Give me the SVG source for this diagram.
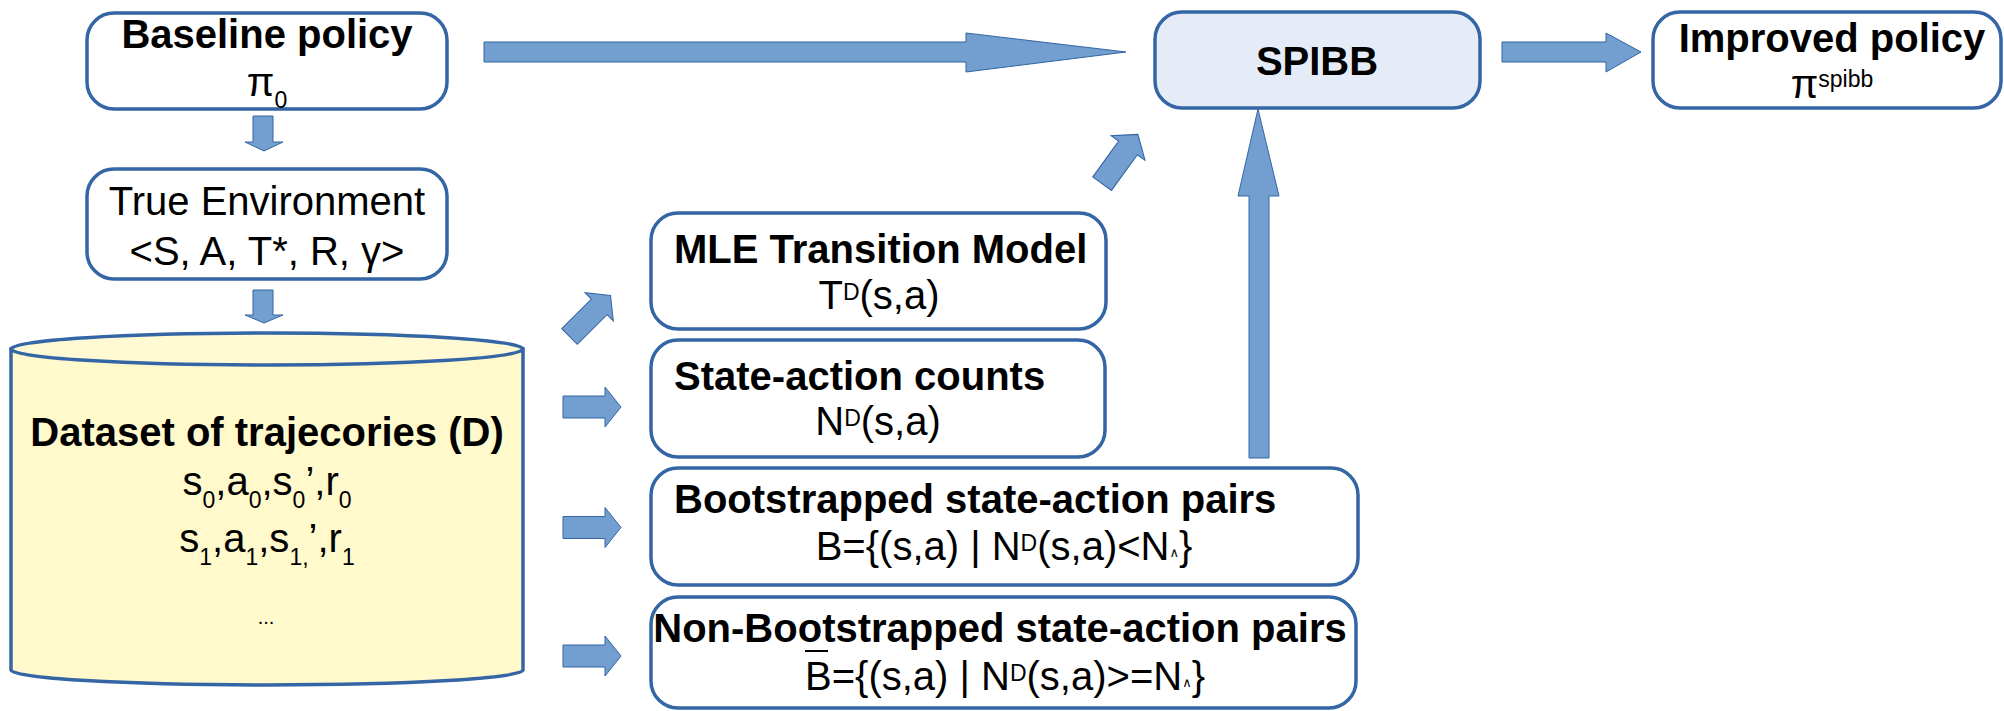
<svg xmlns="http://www.w3.org/2000/svg" width="2004" height="711" viewBox="0 0 2004 711">
<style>
text{font-family:"Liberation Sans",Arial,"DejaVu Sans",sans-serif;font-size:40px;fill:#000}
.b{font-weight:bold}
.s{font-size:23px}
.w{font-family:"DejaVu Sans",sans-serif;font-size:13px}
.box{fill:#fff;stroke:#3465a4;stroke-width:3.5}
.arr{fill:#729fcf;stroke:#3465a4;stroke-width:1}
</style>
<defs>
<path id="blk" d="M-29,-11 H13 V-20 L29,0 L13,20 V11 H-29 Z"/>
</defs>
<rect width="2004" height="711" fill="#fff"/>

<g id="connectors">
<path class="arr" d="M253,116 H273 V142 H283 L264,151 L245,142 H253 Z"/>
<path class="arr" d="M253,290 H273 V315 H283 L264,323 L245,315 H253 Z"/>
<path class="arr" d="M484,42 H966 V33 L1126,52 L966,72 V62 H484 Z"/>
<path class="arr" d="M1502,42 H1606 V33 L1641,52 L1606,72 V62 H1502 Z"/>
<path class="arr" d="M1249,458 V196 H1238 L1258,109 L1279,196 H1269 V458 Z"/>
<use href="#blk" class="arr" transform="translate(590,316) rotate(-45)"/>
<use href="#blk" class="arr" transform="translate(1120,159) rotate(-54) scale(1.05)"/>
<use href="#blk" class="arr" transform="translate(592,407)"/>
<use href="#blk" class="arr" transform="translate(592,527.5)"/>
<use href="#blk" class="arr" transform="translate(592,656)"/>
</g>

<g id="baseline">
<rect class="box" x="87" y="13" width="360" height="96" rx="27"/>
<text class="b" x="267" y="48" text-anchor="middle">Baseline policy</text>
<text x="267" y="96" text-anchor="middle">π<tspan class="s" dy="12">0</tspan></text>
</g>

<g id="environment">
<rect class="box" x="87" y="169" width="360" height="110" rx="27"/>
<text x="267" y="215" text-anchor="middle">True Environment</text>
<text x="267" y="265" text-anchor="middle">&lt;S, A, T*, R, γ&gt;</text>
</g>

<g id="dataset">
<path d="M11,349 V670 A256,15 0 0 0 523,670 V349 Z" fill="#fff9cc" stroke="#3465a4" stroke-width="3.5"/>
<ellipse cx="267" cy="349" rx="256" ry="16" fill="#fffad4" stroke="#3465a4" stroke-width="3.5"/>
<text class="b" x="267" y="446" text-anchor="middle">Dataset of trajecories (D)</text>
<text x="267" y="495" text-anchor="middle">s<tspan class="s" dy="13">0</tspan><tspan dy="-13">,a</tspan><tspan class="s" dy="13">0</tspan><tspan dy="-13">,s</tspan><tspan class="s" dy="13">0</tspan><tspan dy="-13">’,r</tspan><tspan class="s" dy="13">0</tspan></text>
<text x="267" y="552" text-anchor="middle">s<tspan class="s" dy="13">1</tspan><tspan dy="-13">,a</tspan><tspan class="s" dy="13">1</tspan><tspan dy="-13">,s</tspan><tspan class="s" dy="13">1,</tspan><tspan dy="-13">’,r</tspan><tspan class="s" dy="13">1</tspan></text>
<text x="266" y="624" text-anchor="middle" style="font-size:20px">...</text>
</g>

<g id="spibb">
<rect x="1155" y="12" width="325" height="96" rx="27" fill="#e6ecf7" stroke="#3465a4" stroke-width="3.5"/>
<text class="b" x="1317" y="75" text-anchor="middle">SPIBB</text>
</g>

<g id="improved">
<rect class="box" x="1653" y="12" width="348" height="96" rx="27"/>
<text class="b" x="1832" y="52" text-anchor="middle">Improved policy</text>
<text x="1832" y="98" text-anchor="middle">π<tspan class="s" dy="-11">spibb</tspan></text>
</g>

<g id="mle">
<rect class="box" x="651" y="213" width="455" height="116" rx="27"/>
<text class="b" x="674" y="263">MLE Transition Model</text>
<text x="879" y="309" text-anchor="middle">T<tspan class="s" dy="-9">D</tspan><tspan dy="9">(s,a)</tspan></text>
</g>

<g id="counts">
<rect class="box" x="651" y="340" width="454" height="117" rx="27"/>
<text class="b" x="674" y="390">State-action counts</text>
<text x="878" y="435" text-anchor="middle">N<tspan class="s" dy="-9">D</tspan><tspan dy="9">(s,a)</tspan></text>
</g>

<g id="bootstrapped">
<rect class="box" x="651" y="468" width="707" height="117" rx="27"/>
<text class="b" x="674" y="513">Bootstrapped state-action pairs</text>
<text x="1004" y="560" text-anchor="middle">B={(s,a) | N<tspan class="s" dy="-9">D</tspan><tspan dy="9">(s,a)&lt;N</tspan><tspan class="w" dy="-3">∧</tspan><tspan dy="3">}</tspan></text>
</g>

<g id="nonbootstrapped">
<rect class="box" x="651" y="597" width="705" height="111" rx="27"/>
<text class="b" x="1000" y="642" text-anchor="middle">Non-Bootstrapped state-action pairs</text>
<text x="1005" y="690" text-anchor="middle">B={(s,a) | N<tspan class="s" dy="-9">D</tspan><tspan dy="9">(s,a)&gt;=N</tspan><tspan class="w" dy="-3">∧</tspan><tspan dy="3">}</tspan></text>
<line x1="805" y1="651" x2="828" y2="651" stroke="#000" stroke-width="2"/>
</g>
</svg>
